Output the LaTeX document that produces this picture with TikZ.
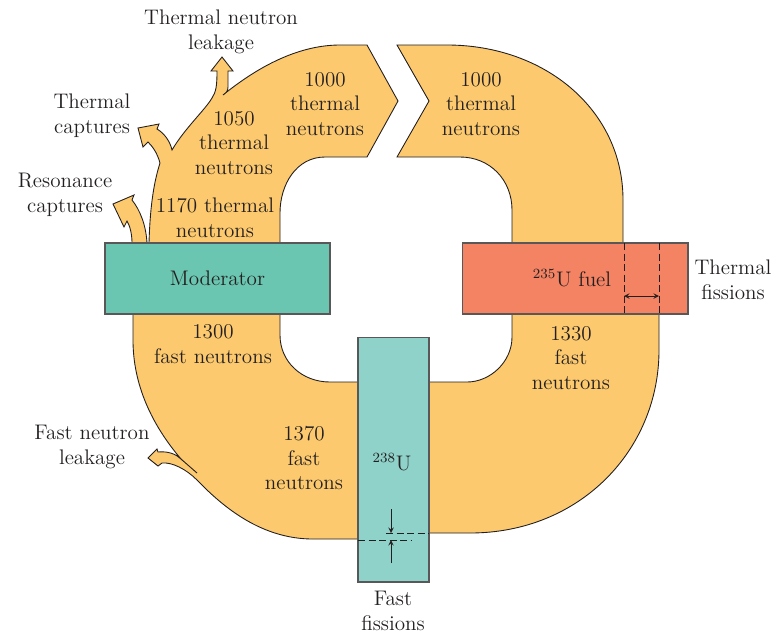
\documentclass[tikz,border=0pt]{standalone}
\usepackage{tikz}
\definecolor{flow}{RGB}{252,201,110}
\definecolor{moder}{RGB}{106,198,176}
\definecolor{fuel}{RGB}{244,131,100}
\definecolor{urani}{RGB}{143,210,201}
\definecolor{ink}{RGB}{35,31,32}

\begin{document}
\begin{tikzpicture}[x=0.02cm, y=-0.02cm, >=stealth,
    band/.style={fill=flow, draw=ink, line width=0.5pt},
    slab/.style={draw=ink!75, line width=0.6pt, inner sep=0pt, text=ink, font=\fontsize{12}{14}\selectfont},
    lbl/.style={align=center, inner sep=0pt, text=ink, font=\fontsize{12}{14}\selectfont},
    gap/.style={draw=ink, line width=0.5pt, dash pattern=on 4pt off 2pt}]
    \useasboundingbox (0,0) rectangle (783,633);
    % Dòng nhiệt: moderator -> khe, với ba nhánh thoát
    \draw[band] (132,243) .. controls (132,234) and (130,226) .. (127,221) -- (124,227) -- (113,204) -- (134,195) -- (132,200)
        .. controls (140,210) and (146,225) .. (147,243) -- (149,243) .. controls (150,210) and (153,185) .. (160,163)
        .. controls (157,152) and (152,146) .. (148,142) -- (143,147) -- (138,128) -- (159,124) -- (157,129)
        .. controls (164,133) and (170,141) .. (172,150) .. controls (185,128) and (205,110) .. (212,98)
        .. controls (216,92) and (217,86) .. (217,71) -- (211,71) -- (222,57) -- (233,71) -- (228,71) -- (228,87)
        .. controls (228,91) and (226,93) .. (223,95)
        .. controls (260,65) and (300,45) .. (340,45) -- (367,45) -- (398,101) -- (367,157) -- (325,157)
        .. controls (296,157) and (280,185) .. (280,213) -- (280,243) -- cycle;
    \draw[band] (397,45) -- (447,45) .. controls (545,45) and (623,110) .. (623,200) -- (623,243) -- (512,243) -- (512,210)
        .. controls (512,180) and (490,157) .. (460,157) -- (397,157) -- (429,101) -- cycle;
    % Dòng nhanh: nhiên liệu -> 238U -> moderator
    \draw[band] (512,314) -- (512,337) .. controls (512,362) and (490,382) .. (467,382) -- (415,382) -- (415,533) -- (470,533)
        .. controls (580,533) and (659,450) .. (659,350) -- (659,314) -- cycle;
    \draw[band] (280,314) -- (280,335) .. controls (280,362) and (302,382) .. (330,382) -- (372,382) -- (372,539) -- (313,539)
        .. controls (262,539) and (224,508) .. (197,480) .. controls (186,469) and (172,462) .. (162,463) -- (158,466) -- (148,458)
        -- (157,449) -- (158,452) .. controls (168,451) and (176,454) .. (181,459) .. controls (152,425) and (133,385) .. (133,340)
        -- (133,314) -- cycle;
    \coordinate (kink) at (181,459);
    \coordinate (kinkend) at (197,473);
    \draw[ink, line width=0.5pt] (kink) -- (kinkend);
    % Các khối
    \node[slab, fill=moder, minimum width=4.5cm, minimum height=1.42cm] (mod) at (217.5,278.5) {Moderator};
    \node[slab, fill=fuel, minimum width=4.52cm, minimum height=1.42cm] (fuel) at (575,278.5) {};
    \node[lbl] (fueltxt) at (572,278) {\textsuperscript{235}U fuel};
    \node[slab, fill=urani, minimum width=1.42cm, minimum height=4.9cm] (u238) at (393.5,459.5) {};
    \node[lbl] (utxt) at (392,462) {\textsuperscript{238}U};
    % Phân hạch nhiệt
    \coordinate (tf1) at (624,243);
    \coordinate (tf2) at (659,243);
    \coordinate (tw1) at (624,296);
    \coordinate (tw2) at (659,296);
    \draw[gap] (tf1) -- (tf1 |- fuel.south);
    \draw[gap] (tf2) -- (tf2 |- fuel.south);
    \draw[<->, ink] (tw1) -- (tw2);
    % Phân hạch nhanh
    \coordinate (ffa) at (386,533);
    \coordinate (ffb) at (429,533);
    \coordinate (ffc) at (358,540);
    \coordinate (ffd) at (412,540);
    \coordinate (fft) at (391,509);
    \coordinate (ffu) at (391,563);
    \draw[gap] (ffa) -- (ffb);
    \draw[gap] (ffc) -- (ffd);
    \draw[->, ink] (fft) -- (fft |- ffa);
    \draw[->, ink] (ffu) -- (ffu |- ffc);
    % Nhãn
    \node[lbl] (leakT) at (221,32) {Thermal neutron\\leakage};
    \node[lbl] (captT) at (92,116) {Thermal\\captures};
    \node[lbl] (resC) at (65,195) {Resonance\\captures};
    \node[lbl] (n1050) at (234,143) {1050\\thermal\\neutrons};
    \node[lbl] (n1000a) at (325,104) {1000\\thermal\\neutrons};
    \node[lbl] (n1000b) at (481,104) {1000\\thermal\\neutrons};
    \node[lbl] (n1170) at (215,218) {1170 thermal\\neutrons};
    \node[lbl] (n1300) at (213,344) {1300\\fast neutrons};
    \node[lbl] (n1330) at (571,358) {1330\\fast\\neutrons};
    \node[lbl] (n1370) at (304,458) {1370\\fast\\neutrons};
    \node[lbl] (leakF) at (92,447) {Fast neutron\\leakage};
    \node[lbl] (fisT) at (733,280) {Thermal\\fissions};
    \node[lbl] (fisF) at (393,611) {Fast\\fissions};
\end{tikzpicture}
\end{document}
